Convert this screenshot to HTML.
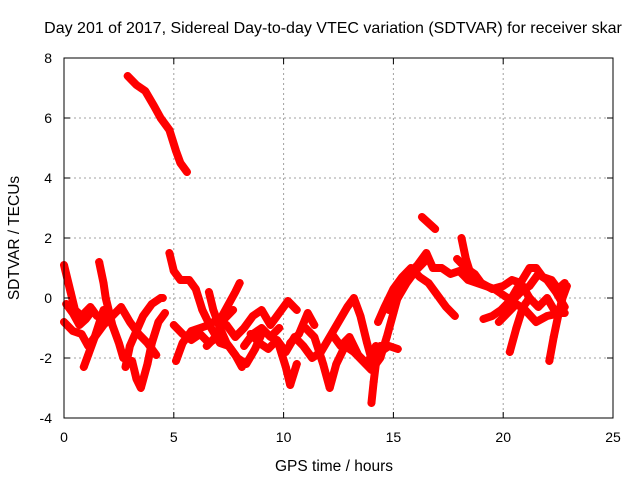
<!DOCTYPE html>
<html><head><meta charset="utf-8"><style>
body{margin:0;background:#fff}
svg text{font-family:"Liberation Sans",sans-serif;font-size:14px;fill:#000}
</style></head><body>
<svg id="chart" width="640" height="480" xmlns="http://www.w3.org/2000/svg">
<rect width="640" height="480" fill="#fff"/>
<g id="grid"></g>
<g id="marks"></g>
<rect x="64" y="58" width="549" height="360" fill="none" stroke="#000" stroke-width="1"/>
<g id="ticks"></g>
<text x="333" y="33" text-anchor="middle" style="font-size:16px">Day 201 of 2017, Sidereal Day-to-day VTEC variation (SDTVAR) for receiver skar</text>
<text x="334" y="471" text-anchor="middle" style="font-size:15.5px">GPS time / hours</text>
<text x="0" y="0" text-anchor="middle" transform="translate(19,238) rotate(-90)" style="font-size:15.5px">SDTVAR / TECUs</text>
</svg>
<script>
const xTicks=[0,5,10,15,20,25];
const yTicks=[-4,-2,0,2,4,6,8];
const trackA_x=[2.9,3.3,3.7,4.1,4.4,4.8,5.1,5.3,5.6];
const trackA_y=[7.4,7.1,6.9,6.4,6.0,5.6,4.9,4.5,4.2];
const tracks=[
[[2.9,3.3,3.7,4.1,4.4,4.8,5.1,5.3,5.6],[7.4,7.1,6.9,6.4,6.0,5.6,4.9,4.5,4.2]],
[[0,0.3,0.5,0.8,1.2,1.5],[1.1,0.2,-0.4,-0.6,-0.3,-0.6]],
[[0,0.4,0.8,1.1,1.4,1.8,2.2,2.6,3.0,3.4,3.8,4.2],[-0.8,-1.1,-1.2,-1.6,-1.3,-0.9,-0.6,-0.3,-0.8,-1.2,-1.5,-1.9]],
[[1.6,1.8,1.9,2.2,2.5,2.7],[1.2,0.5,0.0,-0.9,-1.5,-2.0]],
[[2.8,3.0,3.3,3.6,4.0,4.4,4.5],[-2.3,-1.6,-1.1,-0.6,-0.2,0.0,0.0]],
[[3.1,3.3,3.5,3.8,4.0,4.3,4.6],[-2.1,-2.7,-3.0,-2.2,-1.5,-0.8,-0.5]],
[[0.9,1.1,1.4,1.8,2.0],[-2.3,-1.9,-1.3,-0.4,-0.6]],
[[0.1,0.4,0.7,1.0,1.3],[-0.2,-0.5,-0.9,-0.7,-0.4]],
[[4.8,5.0,5.3,5.7,6.0,6.3,6.7,7.1,7.5,7.9,8.3,8.7,9.0],[1.5,0.9,0.6,0.6,0.3,-0.4,-1.0,-1.5,-1.6,-2.0,-2.2,-1.7,-1.2]],
[[5.1,5.4,5.8,6.2,6.6,7.0,7.4,7.8,8.2,8.6,9.0,9.4,9.8,10.2,10.6],[-2.1,-1.5,-1.1,-1.0,-0.9,-0.7,-0.9,-1.3,-1.0,-0.6,-0.4,-0.9,-0.5,-0.1,-0.4]],
[[5.0,5.4,5.8,6.2,6.6,7.0],[-0.9,-1.2,-1.4,-1.2,-1.5,-1.3]],
[[6.6,6.8,7.1,7.4,7.8,8.1],[0.2,-0.4,-1.0,-1.5,-1.9,-2.3]],
[[7.2,7.5,7.8,8.0],[-0.6,-0.2,0.2,0.5]],
[[6.5,6.9,7.3,7.7],[-1.6,-1.3,-0.7,-0.4]],
[[8.2,8.6,9.0,9.4,9.8],[-1.6,-1.2,-1.0,-1.3,-1.0]],
[[8.5,8.9,9.3,9.7,10.1,10.5,10.9,11.3,11.7,12.1,12.5,12.9,13.2,13.5,13.8,14.1,14.4,14.7,15.0,15.3,15.7,16.1,16.5,16.8,17.2,17.6,18.0,18.4,18.8,19.2,19.6,20.0,20.4,20.8,21.2,21.6,22.0,22.4,22.8],
 [-1.2,-1.5,-1.7,-1.4,-1.8,-1.3,-1.6,-2.0,-1.8,-1.3,-0.8,-0.3,0.0,-0.6,-1.5,-2.3,-2.0,-1.3,-0.5,0.3,0.8,1.1,1.5,1.0,1.0,0.8,0.9,0.6,0.5,0.4,0.3,0.1,-0.1,0.2,0.4,0.8,0.6,0.2,-0.3]],
[[11.0,11.4,11.8,12.1,12.4,12.8,13.2,13.6,14.0,14.4,14.8,15.2],[-1.0,-1.3,-2.2,-3.0,-2.2,-1.6,-1.8,-2.1,-2.4,-1.8,-1.6,-1.7]],
[[12.2,12.6,13.0,13.4,13.8,14.2],[-1.2,-1.6,-1.3,-1.9,-2.2,-1.6]],
[[10.3,10.7,11.1,11.4],[-1.5,-1.2,-0.5,-0.9]],
[[14.3,14.6,15.0,15.4,15.8,16.2,16.6,17.0,17.4,17.8],[-0.8,-0.3,0.3,0.7,1.0,0.7,0.5,0.1,-0.3,-0.6]],
[[14.8,15.2,15.6,16.0,16.4],[-0.4,0.0,0.5,0.9,1.2]],
[[16.3,16.6,16.9],[2.7,2.5,2.3]],
[[17.9,18.3,18.7,19.0,19.5,20.0,20.4,20.8,21.2,21.6,22.0,22.4,22.8],[1.3,1.0,0.8,0.5,0.3,0.4,0.6,0.5,0.0,-0.3,0.0,-0.5,-0.5]],
[[18.1,18.3,18.6],[2.0,1.3,0.6]],
[[19.1,19.5,19.9,20.3,20.7,21.2,21.5,21.8,22.2,22.5,22.8],[-0.7,-0.6,-0.4,-0.1,0.4,1.0,1.0,0.7,0.6,0.3,0.5]],
[[19.8,20.2,20.6,21.0,21.5,22.0,22.6],[-0.8,-0.5,-0.2,-0.4,-0.8,-0.6,-0.5]],
[[20.3,20.6,20.9,21.2],[-1.8,-1.0,-0.3,0.0]],
[[22.1,22.3,22.5,22.7,22.9],[-2.1,-1.3,-0.6,0.0,0.4]],
[[9.8,10.1,10.3,10.6],[-1.6,-2.3,-2.9,-2.2]],
[[14.0,14.1,14.2,14.4],[-3.5,-2.8,-2.2,-1.6]]
];
tracks[0]=[trackA_x,trackA_y];
const NS="http://www.w3.org/2000/svg";
const X=v=>64+v*549/25, Y=v=>418-(v+4)*30;
const grid=document.getElementById('grid'),ticks=document.getElementById('ticks'),marks=document.getElementById('marks');
function mk(t,a,p){const e=document.createElementNS(NS,t);for(const k in a)e.setAttribute(k,a[k]);p.appendChild(e);return e;}
xTicks.forEach(v=>{
 if(v>0&&v<25){const g=mk('line',{x1:X(v),x2:X(v),y1:58,y2:418,stroke:'#a0a0a0','stroke-dasharray':'2,3'},grid);}
 mk('line',{x1:X(v),x2:X(v),y1:418,y2:412,stroke:'#000'},ticks);mk('line',{x1:X(v),x2:X(v),y1:58,y2:64,stroke:'#000'},ticks);
 const t=mk('text',{x:X(v),y:442,'text-anchor':'middle'},ticks);t.textContent=v;
 
 
});
yTicks.forEach(v=>{
 if(v>-4&&v<8){const g=mk('line',{x1:64,x2:613,y1:Y(v),y2:Y(v),stroke:'#a0a0a0','stroke-dasharray':'2,3'},grid);}
 mk('line',{x1:64,x2:70,y1:Y(v),y2:Y(v),stroke:'#000'},ticks);mk('line',{x1:613,x2:607,y1:Y(v),y2:Y(v),stroke:'#000'},ticks);
 const t=mk('text',{x:52,y:Y(v)+5,'text-anchor':'end'},ticks);t.textContent=v;
 
 
});
tracks.forEach(tr=>{
 const pts=tr[0].map((x,i)=>X(x)+','+Y(tr[1][i])).join(' ');
 const pl=mk('polyline',{points:pts,fill:'none',stroke:'#ff0000','stroke-width':8,'stroke-linejoin':'round','stroke-linecap':'round'},marks);
 
 
 tr[0].forEach((x,i)=>{
  const cx=X(x),cy=Y(tr[1][i]);
  const p=mk('path',{d:`M${cx-4},${cy}h8M${cx},${cy-4}v8`,stroke:'#ff0000','stroke-width':1.2},marks);
  
  
 });
});
</script>
</body></html>
